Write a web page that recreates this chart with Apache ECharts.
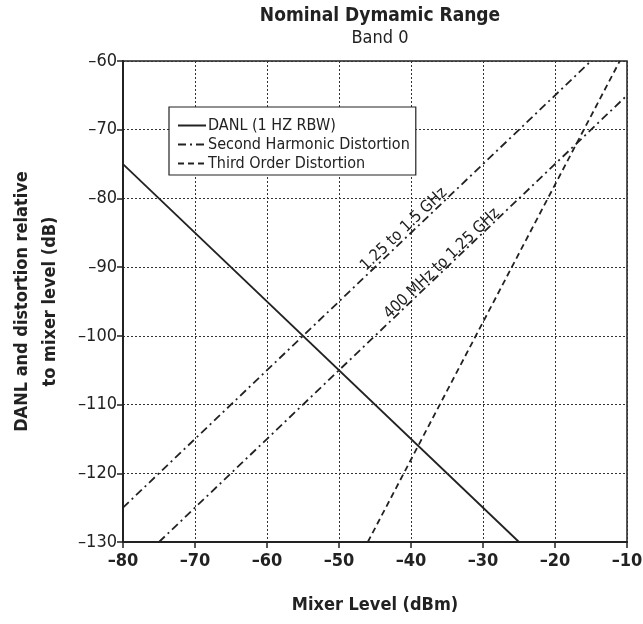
<!DOCTYPE html>
<html>
<head>
<meta charset="utf-8">
<script src="https://cdn.jsdelivr.net/npm/echarts@6/dist/echarts.min.js"></script>
<style>
html,body{margin:0;padding:0;background:#fff;}
#c{width:643px;height:624px;}
</style>
</head>
<body>
<div id="c"></div>
<script>
// Data (Mixer level dBm, dB relative)
const xTicks = [-80, -70, -60, -50, -40, -30, -20, -10];
const yTicks = [-130, -120, -110, -100, -90, -80, -70, -60];
const danl = [[-80, -75], [-25, -130]];
const shdHigh = [[-80, -125], [-15, -60]];   // 1.25 to 1.5 GHz
const shdLow = [[-75, -130], [-10, -65]];    // 400 MHz to 1.25 GHz
const tod = [[-46, -130], [-11, -60]];
const shdHighLabel = {text: '1.25 to 1.5 GHz', at: [-41, -84.5]};
const shdLowLabel = {text: '400 MHz to 1.25 GHz', at: [-35.7, -89.5]};

const FONT = '"Liberation Sans Narrow", "DejaVu Sans Condensed", "Liberation Sans", sans-serif';
const chart = echarts.init(document.getElementById('c'));
const dashDot = [8, 4, 2, 4];
const angle = Math.atan((480.5 / 70) / (504 / 70)) * 180 / Math.PI;

function lineLabel(l) {
  return {
    symbol: 'circle', symbolSize: 0, silent: true,
    data: [{coord: l.at, value: l.text}],
    label: {show: true, position: 'inside', rotate: angle, formatter: l.text,
      color: '#222', fontFamily: FONT, fontSize: 16}
  };
}

chart.setOption({
  animation: false,
  textStyle: {fontFamily: FONT},
  title: {
    text: 'Nominal Dymamic Range', subtext: 'Band 0',
    left: 375, top: 2, textAlign: 'center', itemGap: 3,
    textStyle: {fontFamily: FONT, fontWeight: 'bold', fontSize: 19, color: '#222'},
    subtextStyle: {fontFamily: FONT, fontSize: 18, color: '#222'}
  },
  legend: {
    orient: 'vertical', left: 169, top: 107,
    data: ['DANL (1 HZ RBW)', 'Second Harmonic Distortion', 'Third Order Distortion'],
    itemWidth: 28, itemHeight: 12, itemGap: 2,
    padding: [10, 6, 3, 8],
    borderColor: '#222', borderWidth: 1.2, backgroundColor: '#fff',
    itemStyle: {color: 'rgba(0,0,0,0)', borderWidth: 0, opacity: 0},
    textStyle: {fontFamily: FONT, fontSize: 16, color: '#222', padding: [0, 0, 0, -3], lineHeight: 17},
    selectedMode: false
  },
  grid: {left: 123, right: 16, top: 61, bottom: 82, show: true, borderColor: '#222', borderWidth: 1.5,
    outerBoundsMode: 'none', containLabel: false},
  xAxis: {
    type: 'value', min: -80, max: -10, interval: 10,
    name: 'Mixer Level (dBm)', nameLocation: 'middle', nameGap: 54,
    nameTextStyle: {fontFamily: FONT, fontWeight: 'bold', fontSize: 18, color: '#222'},
    axisLine: {lineStyle: {color: '#222', width: 2}},
    axisTick: {show: true, length: 6, lineStyle: {color: '#222', width: 1.5}},
    axisLabel: {fontFamily: FONT, fontWeight: 'bold', fontSize: 18, color: '#222', margin: 10,
      formatter: v => String(v).replace('-', '\u2013')},
    splitLine: {show: true, lineStyle: {color: '#333', type: [2, 2], width: 1}}
  },
  yAxis: {
    type: 'value', min: -130, max: -60, interval: 10,
    name: 'DANL and distortion relative\nto mixer level (dB)', nameLocation: 'middle', nameGap: 59,
    nameTextStyle: {fontFamily: FONT, fontWeight: 'bold', fontSize: 18, color: '#222', lineHeight: 28},
    axisLine: {lineStyle: {color: '#222', width: 2}},
    axisTick: {show: true, length: 6, lineStyle: {color: '#222', width: 1.5}},
    axisLabel: {fontFamily: FONT, fontSize: 18, color: '#222', margin: 6,
      formatter: v => String(v).replace('-', '\u2013')},
    splitLine: {show: true, lineStyle: {color: '#333', type: [2, 2], width: 1}}
  },
  series: [
    {name: 'DANL (1 HZ RBW)', type: 'line', data: danl, symbol: 'none',
      lineStyle: {color: '#222', width: 1.8}, itemStyle: {color: '#222'}},
    {name: 'Second Harmonic Distortion', type: 'line', data: shdHigh, symbol: 'none',
      lineStyle: {color: '#222', width: 1.8, type: dashDot}, itemStyle: {color: '#222'},
      markPoint: lineLabel(shdHighLabel)},
    {name: 'Second Harmonic Distortion', type: 'line', data: shdLow, symbol: 'none',
      lineStyle: {color: '#222', width: 1.8, type: dashDot}, itemStyle: {color: '#222'},
      markPoint: lineLabel(shdLowLabel)},
    {name: 'Third Order Distortion', type: 'line', data: tod, symbol: 'none',
      lineStyle: {color: '#222', width: 1.8, type: [6, 4]}, itemStyle: {color: '#222'}}
  ]
});
</script>
</body>
</html>
